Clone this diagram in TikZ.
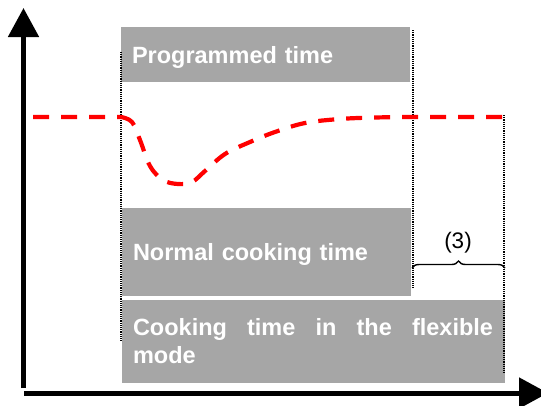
\documentclass[tikz,border=0pt]{standalone}
\usepackage{fontspec}
\setmainfont{Liberation Sans}
\usetikzlibrary{arrows.meta,decorations.pathreplacing}
\definecolor{boxgray}{RGB}{166,166,166}
\definecolor{curvered}{RGB}{255,0,0}
\tikzset{
  graybox/.style={fill=boxgray, draw=none, inner xsep=11pt, inner ysep=0pt,
    text=white, align=left, font=\bfseries\fontsize{23.5}{28}\selectfont},
  onelinebox/.style={graybox, text depth=0pt},
  axisline/.style={line width=5pt, -{Triangle[length=29pt,width=30pt]}},
  guide/.style={line width=1.2pt, dash pattern=on 1.2pt off 1pt},
  curve/.style={curvered, line width=4.2pt, dash pattern=on 16pt off 12pt},
  bracestyle/.style={decorate, decoration={brace, amplitude=7pt}, line width=1.4pt}
}
\begin{document}
\begin{tikzpicture}[x=1pt,y=-1pt]
\useasboundingbox (0,0) rectangle (541,405);
% boxes
\node[onelinebox, minimum width=289pt, minimum height=55pt, text width=267pt] (prog) at (265.5,54.5) {Programmed time};
\node[onelinebox, minimum width=289pt, minimum height=88pt, text width=267pt] (normal) at (266.5,252) {Normal cooking time};
\node[graybox, minimum width=383pt, minimum height=83pt, text width=361pt] (flex) at (313.5,341.5) {\hbox to 360pt{Cooking\hfill time\hfill in\hfill the\hfill flexible}\\mode};
% guide lines
\coordinate (d1t) at (121,52);  \coordinate (d1b) at (121,342);
\coordinate (d2t) at (413,30);  \coordinate (d2b) at (413,288);
\coordinate (d3t) at (504,115); \coordinate (d3b) at (504,373);
\draw[guide] (d1t) -- (d1b);
\draw[guide] (d2t) -- (d2b);
\draw[guide] (d3t) -- (d3b);
% red curve
\coordinate (c0) at (33,117);
\coordinate (c1) at (121,117);
\coordinate (c2) at (504,117);
\draw[curve] (c0) -- (c1) plot[smooth, tension=0.6] coordinates {(121,117) (132,122) (140,140) (150,166) (163,180) (178,184) (192,182) (205,171) (225,154) (250,142) (275,132) (305,123) (340,119) (375,117.5) (413,117)} -- (c2);
% brace
\coordinate (b1) at (412,268);
\coordinate (b2) at (505,268);
\draw[bracestyle] (b1) -- (b2);
\node[font=\fontsize{22.5}{26}\selectfont, inner sep=0pt] (lab) at (458,243) {(3)};
% axes
\coordinate (ybot) at (23.5,388);
\coordinate (ytop) at (23.5,8);
\coordinate (xl) at (24,393);
\coordinate (xr) at (548,393);
\draw[axisline] (ybot) -- (ytop);
\draw[axisline] (xl) -- (xr);
\end{tikzpicture}
\end{document}
